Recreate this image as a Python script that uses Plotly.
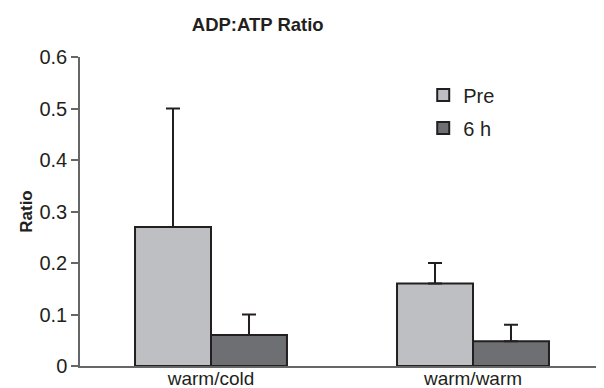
import plotly.graph_objects as go

categories = ["warm/cold", "warm/warm"]
pre_values = [0.27, 0.16]
pre_errors = [0.23, 0.04]
h6_values = [0.06, 0.048]
h6_errors = [0.04, 0.032]
y_tickvals = [0, 0.1, 0.2, 0.3, 0.4, 0.5, 0.6]
y_ticktext = ["0", "0.1", "0.2", "0.3", "0.4", "0.5", "0.6"]

FONT = "Liberation Sans, Arial, sans-serif"
DARK = "#231f20"

fig = go.Figure()
fig.add_trace(go.Bar(
    name="Pre", x=categories, y=pre_values, legendgroup="a",
    marker=dict(color="#bebfc3", line=dict(color=DARK, width=2)),
    error_y=dict(type="data", array=pre_errors, arrayminus=[0, 0], symmetric=False,
                 color=DARK, thickness=2, width=7),
))
fig.add_trace(go.Bar(
    name="6 h", x=categories, y=h6_values, legendgroup="b",
    marker=dict(color="#6e6f73", line=dict(color=DARK, width=2)),
    error_y=dict(type="data", array=h6_errors, arrayminus=[0, 0], symmetric=False,
                 color=DARK, thickness=2, width=7),
))

# the page body has an 8px margin, so the figure is sized to fill the rest of the window
fig.update_layout(
    width=596, height=380,
    margin=dict(l=72, r=0, t=49, b=22, pad=0),
    paper_bgcolor="white", plot_bgcolor="white",
    barmode="group", bargap=0.42, bargroupgap=0,
    font=dict(family=FONT, size=19, color="#231f20"),
    title=dict(text="<b>ADP:ATP Ratio</b>", x=0.419, xanchor="center",
               y=1 - 17 / 380, yanchor="middle", yref="container",
               font=dict(family=FONT, size=18.5, color="#231f20")),
    showlegend=True,
    legend=dict(x=0.655, y=0.94, xanchor="left", yanchor="top",
                bgcolor="rgba(0,0,0,0)", font=dict(family=FONT, size=20),
                traceorder="grouped", tracegroupgap=4, itemwidth=30),
    xaxis=dict(showline=True, linecolor="#666666", linewidth=1.5,
               ticks="", showgrid=False, zeroline=False, automargin=False,
               range=[-0.5, 1.5], tickfont=dict(size=19), ticklabelstandoff=-6),
    yaxis=dict(showline=True, linecolor="#666666", linewidth=1.5,
               ticks="outside", ticklen=7, tickwidth=1.5, tickcolor="#666666",
               showgrid=False, zeroline=False, range=[0, 0.6], automargin=False,
               tickvals=y_tickvals, ticktext=y_ticktext, tickfont=dict(size=20),
               title=dict(text="<b>Ratio</b>", font=dict(size=17), standoff=2)),
)

fig.write_html("out.html")
